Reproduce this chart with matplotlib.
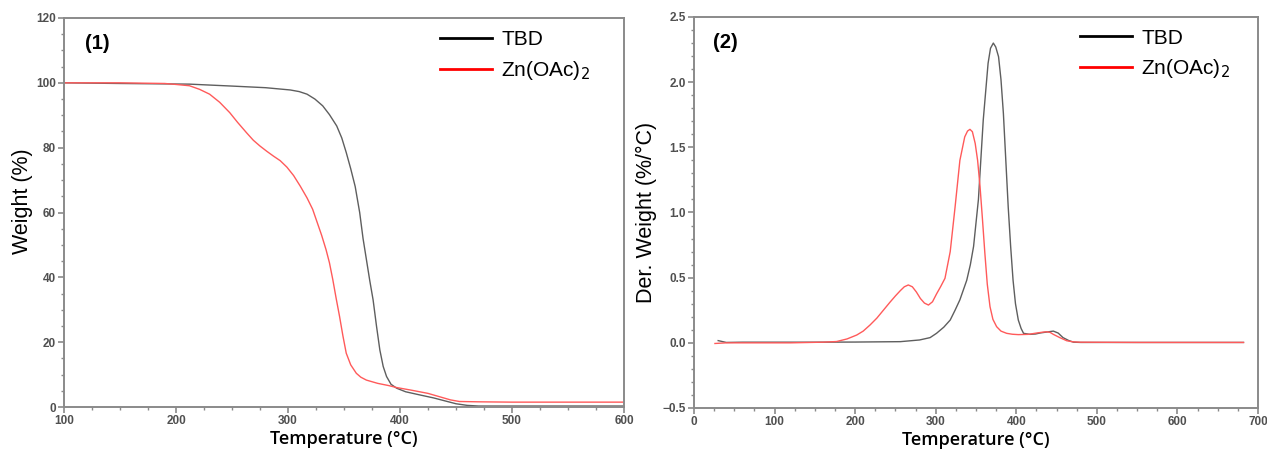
import matplotlib
matplotlib.use("Agg")
import matplotlib.pyplot as plt
from matplotlib.ticker import MultipleLocator

# ---- TGA data (panel 1) ----
tga_tbd_T = [100, 150, 212, 250, 280, 302, 310, 317, 324, 331, 337, 343.5, 348, 352, 356, 360, 364, 367,
             370, 373, 376, 379, 382, 385, 388, 392, 397, 405, 418, 430, 440, 450, 460, 470, 500, 600]
tga_tbd_W = [100, 99.8, 99.6, 99.0, 98.5, 97.8, 97.3, 96.5, 95.0, 92.9, 90.2, 86.7, 83.0, 78.5, 73.5, 68,
             60, 52, 45.5, 39, 33, 25, 17.6, 12.5, 9.4, 7, 5.8, 4.7, 3.7, 2.8, 1.9, 1.0, 0.5, 0.3, 0.3, 0.3]

tga_zn_T = [100, 150, 190, 200, 212, 221, 230, 239, 248, 255, 263, 269, 275, 281, 287, 293, 299, 305,
            311, 317, 322, 326, 330, 334, 337, 340, 343, 346, 349, 352, 356, 361, 365, 370, 380, 390, 397,
            410, 425, 437, 445, 453, 470, 500, 600]
tga_zn_W = [100, 100, 99.8, 99.5, 99.1, 98.0, 96.5, 94.0, 90.8, 87.8, 84.6, 82.3, 80.5, 78.9, 77.4, 76.0,
            74.0, 71.4, 68.1, 64.5, 61, 57, 53, 48.5, 44.5, 39.3, 33.5, 28, 22, 16.6, 13, 10.4, 9.2, 8.3,
            7.3, 6.6, 6, 5.2, 4.2, 3.0, 2.2, 1.7, 1.6, 1.5, 1.5]

# ---- DTG data (panel 2) ----
dtg_tbd_T = [30, 35, 40, 60, 100, 150, 200, 256, 280, 293, 301, 310, 318, 324, 330, 338.5, 343, 347,
             353, 359, 365, 368, 371.5, 374.5, 378, 381, 384, 387, 390, 393, 396, 399, 402.5, 406, 409,
             417, 424, 430, 438, 446, 452, 458, 465, 471, 480, 550, 600, 682]
dtg_tbd_D = [0.017, 0.01, 0.003, 0.005, 0.005, 0.005, 0.006, 0.009, 0.022, 0.04, 0.073, 0.12, 0.175, 0.25,
             0.33, 0.48, 0.6, 0.74, 1.1, 1.71, 2.145, 2.26, 2.30, 2.27, 2.195, 2.02, 1.76, 1.4, 1.04, 0.74,
             0.48, 0.3, 0.175, 0.11, 0.073, 0.065, 0.068, 0.076, 0.083, 0.09, 0.075, 0.04, 0.018, 0.005,
             0.003, 0.003, 0.003, 0.003]

dtg_zn_T = [26, 40, 80, 120, 160, 177, 190, 202, 210, 218.5, 227, 235, 243, 250, 256, 261, 266, 271,
            276, 281, 286, 291, 296, 301, 306, 311.5, 318, 324, 330, 336, 339.5, 342.5, 345.5, 349, 352,
            355, 358, 361, 364, 367.4, 371, 375.6, 381, 388, 395, 402.5, 415, 425, 433, 437.7, 442, 446,
            454, 462.6, 470, 479, 550, 682]
dtg_zn_D = [-0.005, 0.0, 0.0, 0.0, 0.005, 0.01, 0.03, 0.06, 0.09, 0.137, 0.19, 0.25, 0.31, 0.36, 0.40,
            0.43, 0.444, 0.43, 0.39, 0.34, 0.305, 0.29, 0.315, 0.375, 0.43, 0.495, 0.7, 1.04, 1.40, 1.58,
            1.625, 1.638, 1.62, 1.53, 1.40, 1.20, 0.95, 0.687, 0.45, 0.277, 0.18, 0.124, 0.09, 0.073,
            0.066, 0.063, 0.065, 0.075, 0.082, 0.085, 0.08, 0.065, 0.04, 0.016, 0.008, 0.005, 0.003, 0.003]

series_names = ["TBD", "Zn(OAc)$_2$"]
panel_labels = ["(1)", "(2)"]

TBD_COLOR = "#5e5e5e"
ZN_COLOR = "#ff5a5a"
FRAME = "#8a8a8a"
TICKLBL = "#505050"

fig = plt.figure(figsize=(12.67, 4.5), dpi=100)
ax1 = fig.add_axes([64/1267, 1-407/450, (624-64)/1267, (407-18)/450])
ax2 = fig.add_axes([694/1267, 1-408/450, (1258-694)/1267, (408-17)/450])


def style(ax):
    for s in ax.spines.values():
        s.set_color(FRAME)
        s.set_linewidth(1.4)
    ax.tick_params(which="both", direction="out", color=FRAME, labelcolor=TICKLBL)
    ax.tick_params(which="major", length=4, width=1.2, labelsize=8.5, pad=2)
    ax.tick_params(which="minor", length=2.5, width=1)
    for lbl in ax.get_xticklabels() + ax.get_yticklabels():
        lbl.set_fontweight("bold")
        lbl.set_family("Liberation Sans")


def add_legend(ax, x0, y0):
    h1, = ax.plot([], [], color="black", lw=2)
    h2, = ax.plot([], [], color="red", lw=2)
    ax.legend([h1, h2], series_names, loc="upper left", bbox_to_anchor=(x0, y0),
              frameon=False, handlelength=2.5, handletextpad=0.45, labelspacing=0.45,
              borderpad=0, borderaxespad=0,
              prop={"family": "Liberation Sans", "size": 15})


# Panel 1
ax1.plot(tga_tbd_T, tga_tbd_W, color=TBD_COLOR, lw=1.0)
ax1.plot(tga_zn_T, tga_zn_W, color=ZN_COLOR, lw=1.0)
ax1.set_xlim(100, 600)
ax1.set_ylim(0, 120)
ax1.xaxis.set_major_locator(MultipleLocator(100))
ax1.xaxis.set_minor_locator(MultipleLocator(25))
ax1.yaxis.set_major_locator(MultipleLocator(20))
ax1.yaxis.set_minor_locator(MultipleLocator(5))
style(ax1)
ax1.set_xlabel("Temperature (°C)", fontsize=13, family="Open Sans", fontweight="semibold", labelpad=2)
ax1.set_ylabel("Weight (%)", fontsize=15.5, family="Liberation Sans")
ax1.yaxis.set_label_coords(-0.055, 0.53)
ax1.text(0.0375, 0.958, panel_labels[0], transform=ax1.transAxes, fontsize=14.5, fontweight="bold",
         family="Liberation Sans", va="top", ha="left")
add_legend(ax1, 0.671, 0.968)

# Panel 2
ax2.plot(dtg_tbd_T, dtg_tbd_D, color=TBD_COLOR, lw=1.0)
ax2.plot(dtg_zn_T, dtg_zn_D, color=ZN_COLOR, lw=1.0)
ax2.set_xlim(0, 700)
ax2.set_ylim(-0.5, 2.5)
ax2.xaxis.set_major_locator(MultipleLocator(100))
ax2.xaxis.set_minor_locator(MultipleLocator(25))
ax2.yaxis.set_major_locator(MultipleLocator(0.5))
ax2.yaxis.set_minor_locator(MultipleLocator(0.1))
style(ax2)
ax2.set_xlabel("Temperature (°C)", fontsize=13, family="Open Sans", fontweight="semibold", labelpad=2)
ax2.set_ylabel("Der. Weight (%/°C)", fontsize=15.5, family="Liberation Sans", labelpad=4)
ax2.text(0.034, 0.96, panel_labels[1], transform=ax2.transAxes, fontsize=14.5, fontweight="bold",
         family="Liberation Sans", va="top", ha="left")
add_legend(ax2, 0.684, 0.970)

fig.savefig("out.png", dpi=100)
